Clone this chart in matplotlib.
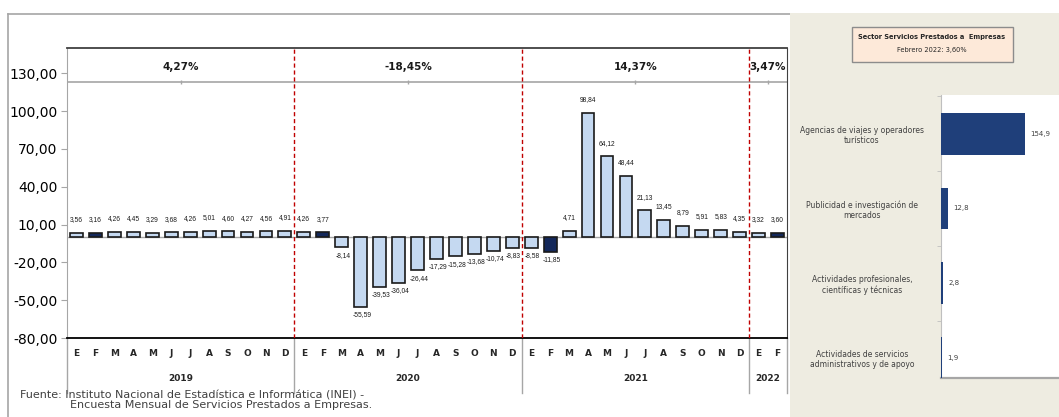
import matplotlib
matplotlib.use("Agg")
import matplotlib.pyplot as plt
from matplotlib.patches import Rectangle
from matplotlib.lines import Line2D
import matplotlib.transforms as mtransforms

# --- datos ---
meses = ["E", "F", "M", "A", "M", "J", "J", "A", "S", "O", "N", "D"] * 3 + ["E", "F"]
v2019 = [3.56, 3.16, 4.26, 4.45, 3.29, 3.68, 4.26, 5.01, 4.60, 4.27, 4.56, 4.91]
v2020 = [4.26, 3.77, -8.14, -55.59, -39.53, -36.04, -26.44, -17.29, -15.28, -13.68, -10.74, -8.83]
v2021 = [-8.58, -11.85, 4.71, 98.84, 64.12, 48.44, 21.13, 13.45, 8.79, 5.91, 5.83, 4.35]
v2022 = [3.32, 3.60]
anios = ["2019", "2020", "2021", "2022"]
var_anual = ["4,27%", "-18,45%", "14,37%", "3,47%"]
nivel_anual = 123

ramas = [
    "Agencias de viajes y operadores\nturísticos",
    "Publicidad e investigación de\nmercados",
    "Actividades profesionales,\ncientíficas y técnicas",
    "Actividades de servicios\nadministrativos y de apoyo",
]
ramas_val = [154.9, 12.8, 2.8, 1.9]

valores = v2019 + v2020 + v2021 + v2022
n = len(valores)
x = list(range(n))
largos = [len(v2019), len(v2020), len(v2021), len(v2022)]

W, H = 1059, 417
fig = plt.figure(figsize=(W / 100, H / 100), dpi=100)
fig.patch.set_facecolor("white")

# panel derecho (fondo beige), detras de los ejes
fig.patches.append(Rectangle((790 / W, 0), 269 / W, 1 - 13 / H, transform=fig.transFigure,
                             facecolor="#EEECE1", edgecolor="none", zorder=-1))
# marco del grafico principal
fig.lines.append(Line2D([8 / W, 790 / W], [1 - 14 / H, 1 - 14 / H], transform=fig.transFigure,
                        color="#A6A6A6", lw=1.2, zorder=-1))
fig.lines.append(Line2D([8 / W, 8 / W], [0, 1 - 14 / H], transform=fig.transFigure,
                        color="#A6A6A6", lw=1.2, zorder=-1))

# --- grafico principal ---
ax = fig.add_axes([67 / W, (H - 338) / H, 720 / W, 290 / H])
colores = ["#14285A" if m == "F" else "#C5D9F1" for m in meses]
ax.bar(x, valores, width=0.68, color=colores, edgecolor="#1A1A1A", linewidth=1.2, zorder=3)
ax.set_xlim(-0.5, n - 0.5)
ax.set_ylim(-80, 150)
ax.set_yticks(range(-80, 131, 30))
ax.set_yticklabels([f"{t:.2f}".replace(".", ",") for t in range(-80, 131, 30)], fontsize=10)
ax.tick_params(axis="y", length=4, color="#A6A6A6", pad=3)
ax.set_xticks(x)
ax.set_xticklabels(meses, fontsize=6.5, fontweight="bold", color="#262626")
ax.tick_params(axis="x", length=0, pad=8)
for s in ["top", "right"]:
    ax.spines[s].set_color("#404040")
ax.spines["left"].set_color("#A6A6A6")
ax.spines["bottom"].set_color("#000000")
ax.spines["bottom"].set_linewidth(1.3)
ax.spines["top"].set_linewidth(1.3)

ax.axhline(0, color="#A6A6A6", lw=1, zorder=2)
ax.axhline(nivel_anual, color="#A6A6A6", lw=1.2, zorder=2)

# etiquetas de datos
for xi, v in zip(x, valores):
    txt = f"{v:.2f}".replace(".", ",")
    if v >= 0:
        ax.annotate(txt, (xi, v), xytext=(0, 7), textcoords="offset points",
                    ha="center", va="bottom", fontsize=4.8, family="Liberation Sans", color="#1A1A1A")
    else:
        ax.annotate(txt, (xi, v), xytext=(1, -3), textcoords="offset points",
                    ha="center", va="top", fontsize=4.8, family="Liberation Sans", color="#1A1A1A")

# separadores de anio y variaciones anuales
trans = mtransforms.blended_transform_factory(ax.transData, ax.transAxes)
inicio = -0.5
for k, (anio, var, lg) in enumerate(zip(anios, var_anual, largos)):
    fin = inicio + lg
    centro = (inicio + fin) / 2
    ax.text(centro, 135, var, ha="center", va="center", fontsize=7.5, fontweight="bold", color="#1A1A1A")
    ax.plot([centro], [nivel_anual], marker="|", color="#A6A6A6", ms=3)
    ax.text(centro, -0.14, anio, transform=trans, ha="center", va="center",
            fontsize=6.5, fontweight="bold", color="#262626")
    if k > 0:
        ax.axvline(inicio, color="#C00000", lw=1, ls=(0, (3, 2)), zorder=4)
    ax.plot([inicio, inicio], [0, -0.19], transform=trans, clip_on=False, color="#A6A6A6", lw=1)
    inicio = fin
ax.plot([inicio, inicio], [0, -0.19], transform=trans, clip_on=False, color="#A6A6A6", lw=1)

fig.text(20 / W, 1 - 395 / H, "Fuente: Instituto Nacional de Estadística e Informática (INEI) -",
         fontsize=8, va="center", color="#404040")
fig.text(70 / W, 1 - 405 / H, "Encuesta Mensual de Servicios Prestados a Empresas.",
         fontsize=8, va="center", color="#404040")

# --- recuadro titulo derecho ---
fig.patches.append(Rectangle((852 / W, 1 - 62 / H), 161 / W, 35 / H, transform=fig.transFigure,
                             facecolor="#FDE9D9", edgecolor="#8C8C8C", lw=1, zorder=1))
fig.text(932 / W, 1 - 37 / H, "Sector Servicios Prestados a  Empresas", ha="center", va="center",
         fontsize=4.8, fontweight="bold", color="#262626")
fig.text(932 / W, 1 - 50 / H, "Febrero 2022: 3,60%", ha="center", va="center",
         fontsize=4.8, color="#262626")

# --- grafico de ramas ---
ax2 = fig.add_axes([941 / W, (H - 378) / H, 118 / W, 283 / H])
ax2.set_facecolor("white")
yr = list(range(len(ramas)))
ax2.barh(yr, ramas_val, height=0.56, color="#1F3F7A", zorder=3)
ax2.set_xlim(0, 218)
ax2.set_ylim(3.27, -0.52)
ax2.set_xticks([])
ax2.set_yticks(yr)
ax2.set_yticklabels(ramas, fontsize=5.5, color="#404040", ha="center", multialignment="center")
ax2.tick_params(axis="y", which="major", length=0, pad=57)
ax2.set_yticks([-0.5, 0.5, 1.5, 2.5], minor=True)
ax2.tick_params(axis="y", which="minor", length=3, color="#BFBFBF")
for s in ["top", "right"]:
    ax2.spines[s].set_visible(False)
ax2.spines["left"].set_color("#BFBFBF")
ax2.spines["bottom"].set_color("#A6A6A6")
ax2.spines["bottom"].set_linewidth(1.6)
for yi, v in zip(yr, ramas_val):
    ax2.annotate(f"{v:.1f}".replace(".", ","), (v, yi), xytext=(4, 0), textcoords="offset points",
                 ha="left", va="center", fontsize=5, color="#404040")

fig.savefig("out.png", dpi=100)
